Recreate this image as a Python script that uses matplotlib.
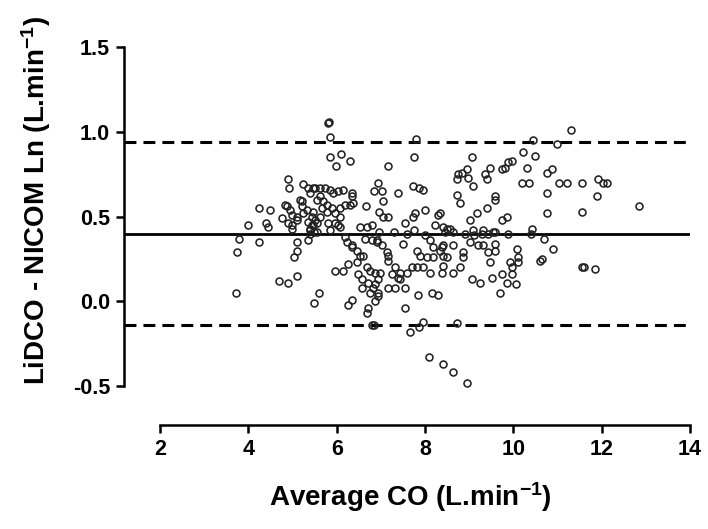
import matplotlib
matplotlib.use("Agg")
import matplotlib.pyplot as plt

plt.rcParams['font.family'] = ['Liberation Sans', 'DejaVu Sans']
plt.rcParams['mathtext.fontset'] = 'custom'
plt.rcParams['mathtext.rm'] = 'Liberation Sans:bold'
plt.rcParams['mathtext.default'] = 'rm'

# Bland-Altman data: average CO (x) vs log difference (y)
avg_co = [
    3.72, 3.74, 3.79, 4.24, 4.69, 4.90, 5.10, 5.03, 5.10, 5.10, 5.35, 5.49, 5.60, 3.99, 4.45, 4.24, 4.49, 4.40, 4.76, 4.88,
    4.90, 4.92, 5.24, 5.21, 5.40, 5.46, 5.10, 5.33, 4.99, 5.46, 5.49, 5.40,
    5.35, 5.51, 5.62, 5.74, 5.85, 5.92, 6.03, 5.55, 5.62, 5.69, 5.78, 5.67, 5.78, 5.89, 5.96, 6.08, 6.08, 6.19,
    6.30, 6.35, 6.37, 5.46, 5.44, 5.35, 5.55, 5.80, 5.96, 6.03, 5.17, 5.21, 5.24, 5.44, 5.40, 5.51, 5.62, 4.83,
    4.94, 4.99, 4.90, 4.99, 5.10, 5.40, 5.55, 5.85, 6.19, 6.23, 6.35, 6.46, 6.53,
    5.80, 5.82, 5.85, 5.85, 5.98, 6.10, 6.30, 7.16, 7.75, 7.80, 6.94, 6.84, 7.03, 7.05, 7.39, 7.73, 7.86, 7.95,
    6.96, 7.05, 7.16, 6.66, 6.35, 6.14, 7.50, 7.89, 7.55, 7.73, 8.00, 8.29, 8.23, 8.57, 8.18, 8.38, 8.50, 8.75,
    8.72, 8.72, 6.53, 6.69, 6.80, 6.35, 6.60, 6.91, 7.03, 7.16, 7.77, 7.82, 8.04,
    9.06, 8.84, 8.95, 8.97, 9.09, 8.79, 9.47, 9.36, 9.40, 9.40, 9.18, 9.02, 9.74, 9.86, 9.58, 9.58, 11.30, 10.44,
    10.99, 10.22, 10.49, 9.97, 9.88, 10.31, 10.76, 10.87, 10.20, 10.35, 11.03, 11.21, 11.55, 11.92, 12.03, 12.12,
    10.76, 11.89, 11.55, 10.76, 12.84, 9.74, 9.81, 10.42, 9.88, 10.40, 10.69, 10.90, 10.65, 10.08, 8.34, 8.50,
    8.63, 8.41, 8.86,
    6.26, 5.96, 6.14, 6.48, 6.69, 6.75, 6.87, 6.98, 6.57, 6.71, 6.82, 6.94, 6.57, 6.75, 6.94, 7.16, 7.32, 7.43,
    7.55, 7.25, 7.14, 7.16, 7.32, 7.43, 7.59, 7.71, 7.82, 7.95, 8.11, 7.84, 8.16, 8.29, 7.55, 6.26, 6.35, 6.69,
    6.71, 6.87, 6.94, 8.00, 8.11, 8.18, 8.34, 8.41, 8.41, 8.38, 8.63, 8.86, 8.79, 9.06, 9.24, 9.02, 9.20, 9.31,
    9.43, 9.47, 9.52, 9.29, 9.43, 6.64, 6.80, 6.91,
    6.46, 6.80, 6.84, 6.87, 7.39, 7.66, 7.86, 7.95, 8.09, 8.41, 8.63, 8.95, 8.72,
    9.70, 9.86, 10.06, 9.74, 9.97, 9.92, 10.10, 10.60, 11.55, 11.60, 11.85,
    9.58, 9.58, 10.10, 9.97, 9.58,
    6.08, 6.95, 7.30, 7.60, 7.75, 8.45, 8.90, 9.10, 8.41, 8.63, 9.09, 9.31, 9.54,
]
log_diff = [
    0.05, 0.29, 0.37, 0.35, 0.12, 0.11, 0.15, 0.26, 0.30, 0.35, 0.36, -0.01, 0.05, 0.45, 0.44, 0.55, 0.54, 0.46, 0.49, 0.56,
    0.72, 0.67, 0.69, 0.59, 0.64, 0.67, 0.50, 0.54, 0.45, 0.45, 0.41, 0.43,
    0.67, 0.67, 0.67, 0.67, 0.66, 0.64, 0.65, 0.60, 0.62, 0.59, 0.57, 0.55, 0.53, 0.55, 0.52, 0.50, 0.55, 0.57,
    0.57, 0.62, 0.58, 0.53, 0.50, 0.47, 0.46, 0.46, 0.46, 0.45, 0.60, 0.56, 0.52, 0.45, 0.42, 0.48, 0.50, 0.57,
    0.54, 0.51, 0.46, 0.43, 0.48, 0.40, 0.41, 0.42, 0.38, 0.35, 0.33, 0.30, 0.27,
    1.05, 1.06, 0.97, 0.85, 0.80, 0.87, 0.83, 0.80, 0.85, 0.96, 0.70, 0.65, 0.65, 0.59, 0.64, 0.68, 0.67, 0.66,
    0.53, 0.50, 0.50, 0.56, 0.64, 0.66, 0.34, 0.27, 0.46, 0.50, 0.54, 0.51, 0.45, 0.43, 0.32, 0.32, 0.26, 0.75,
    0.72, 0.63, 0.44, 0.44, 0.45, 0.32, 0.27, 0.35, 0.33, 0.27, 0.52, 0.30, 0.26,
    0.85, 0.76, 0.78, 0.73, 0.68, 0.58, 0.79, 0.75, 0.72, 0.55, 0.52, 0.48, 0.48, 0.50, 0.62, 0.60, 1.01, 0.95,
    0.93, 0.88, 0.86, 0.83, 0.82, 0.79, 0.76, 0.78, 0.70, 0.70, 0.70, 0.70, 0.70, 0.72, 0.70, 0.70,
    0.64, 0.62, 0.53, 0.52, 0.56, 0.78, 0.79, 0.43, 0.40, 0.40, 0.37, 0.31, 0.25, 0.31, 0.52, 0.43,
    0.33, 0.33, 0.29,
    0.22, 0.18, 0.18, 0.16, 0.20, 0.18, 0.17, 0.17, 0.13, 0.11, 0.08, 0.13, 0.08, 0.05, 0.05, 0.08, 0.08, 0.13,
    0.08, 0.16, 0.29, 0.24, 0.20, 0.17, 0.17, 0.20, 0.20, 0.20, 0.17, 0.04, 0.05, 0.04, -0.04, -0.02, 0.01, -0.07,
    -0.04, 0.00, 0.03, 0.39, 0.36, 0.26, 0.30, 0.27, 0.21, 0.17, 0.17, 0.26, 0.20, 0.13, 0.11, 0.35, 0.33, 0.33,
    0.29, 0.23, 0.14, 0.40, 0.40, 0.37, 0.36, 0.36,
    0.23, -0.14, -0.14, 0.10, 0.14, -0.18, -0.15, -0.12, -0.33, -0.37, -0.42, -0.48, -0.13,
    0.05, 0.11, 0.10, 0.16, 0.16, 0.23, 0.23, 0.24, 0.20, 0.20, 0.19,
    0.34, 0.30, 0.26, 0.20, 0.41,
    0.44, 0.41, 0.41, 0.40, 0.42, 0.41, 0.40, 0.39, 0.44, 0.41, 0.42, 0.42, 0.41,
]

bias = 0.40
loa_upper = 0.94
loa_lower = -0.14

x_ticks = [2, 4, 6, 8, 10, 12, 14]
y_ticks = [-0.5, 0.0, 0.5, 1.0, 1.5]
y_tick_labels = ["-0.5", "0.0", "0.5", "1.0", "1.5"]

fig = plt.figure(figsize=(7.08, 5.29), dpi=100)
ax = fig.add_axes([0.1751, 0.1966, 0.7994, 0.7461])

xmin, xmax = 1.18, 14.0
ax.set_xlim(xmin, xmax)
ax.set_ylim(-0.73, 1.6)

ax.plot([xmin, xmax], [bias, bias], color='black', lw=2.0, zorder=1)
ax.plot([xmin, xmax], [loa_upper, loa_upper], color='black', lw=2.2,
        dashes=(3.9, 2.3), zorder=1)
ax.plot([xmin, xmax], [loa_lower, loa_lower], color='black', lw=2.2,
        dashes=(3.9, 2.3), zorder=1)

ax.plot(avg_co, log_diff, linestyle='none', marker='o', ms=5.0,
        mfc='none', mec='#222222', mew=1.15, zorder=2)

for s in ['top', 'right']:
    ax.spines[s].set_visible(False)
ax.spines['left'].set_bounds(-0.5, 1.5)
ax.spines['bottom'].set_bounds(2, 14)
for s in ['left', 'bottom']:
    ax.spines[s].set_linewidth(1.8)

ax.set_xticks(x_ticks)
ax.set_xticklabels([str(t) for t in x_ticks])
ax.set_yticks(y_ticks)
ax.set_yticklabels(y_tick_labels)
ax.tick_params(axis='both', length=6, width=1.8, labelsize=15.5, pad=4)
for lab in ax.get_xticklabels() + ax.get_yticklabels():
    lab.set_fontweight('bold')

fig.text(410 / 708, 1 - 497 / 529, r'Average CO (L.min$^{-1}$)', fontsize=20,
         fontweight='bold', ha='center', va='center')
fig.text(36 / 708, 1 - 200 / 529, r'LiDCO - NICOM Ln (L.min$^{-1}$)', fontsize=20,
         fontweight='bold', ha='center', va='center', rotation=90)

fig.savefig('out.png', dpi=100)
